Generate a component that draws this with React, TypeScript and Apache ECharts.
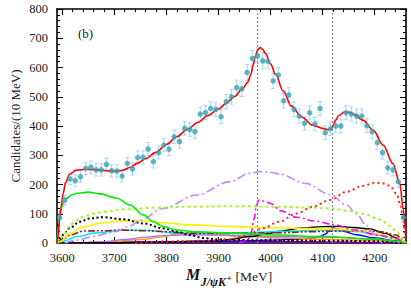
import React, { useEffect, useRef } from "react";
import * as echarts from "echarts";

// ---- data ----
const binCenters = [
  3595, 3605, 3615, 3625, 3635, 3645, 3655, 3665, 3675, 3685, 3695, 3705, 3715, 3725, 3735, 3745, 3755,
  3765, 3775, 3785, 3795, 3805, 3815, 3825, 3835, 3845, 3855, 3865, 3875, 3885, 3895, 3905, 3915, 3925,
  3935, 3945, 3955, 3965, 3975, 3985, 3995, 4005, 4015, 4025, 4035, 4045, 4055, 4065, 4075, 4085, 4095,
  4105, 4115, 4125, 4135, 4145, 4155, 4165, 4175, 4185, 4195, 4205, 4215, 4225, 4235, 4245, 4255,
];
const counts = [
  86, 147, 219, 213, 227, 255, 259, 250, 250, 269, 247, 246, 229, 272, 253, 292, 293,
  321, 278, 309, 335, 321, 363, 347, 392, 388, 381, 441, 446, 460, 457, 432, 483, 500,
  531, 527, 583, 631, 640, 623, 622, 554, 574, 486, 506, 457, 434, 409, 445, 407, 460,
  377, 390, 400, 400, 445, 441, 434, 434, 401, 381, 343, 309, 257, 250, 210, 87,
];
const errors = [
  14, 17, 20, 20, 20, 21, 21, 21, 21, 21, 21, 21, 20, 21, 21, 22, 22,
  22, 21, 22, 22, 22, 23, 23, 23, 23, 23, 24, 24, 24, 24, 24, 25, 25,
  26, 26, 27, 27, 27, 27, 27, 26, 26, 25, 25, 24, 24, 23, 24, 23, 24,
  23, 23, 23, 23, 24, 24, 24, 24, 23, 23, 22, 22, 21, 21, 20, 14,
];

const totalFit = [
  [3590, 0], [3592, 20], [3595, 80], [3598, 125], [3602, 170], [3606, 205], [3614, 235], [3627, 249],
  [3645, 252], [3660, 251], [3680, 248], [3700, 245], [3715, 248], [3730, 258], [3745, 273], [3760, 288],
  [3780, 310], [3800, 337], [3820, 363], [3840, 388], [3860, 412], [3880, 436], [3900, 458], [3915, 478],
  [3930, 500], [3947, 529], [3956, 550], [3962, 575], [3967, 610], [3971, 640], [3975, 660], [3980, 668],
  [3985, 662], [3990, 648], [4000, 612], [4010, 575], [4024, 520], [4040, 468], [4060, 430], [4081, 403],
  [4100, 392], [4110, 388], [4116, 390], [4120, 402], [4125, 420], [4131, 436], [4142, 448], [4152, 447],
  [4160, 440], [4177, 420], [4197, 386], [4216, 335], [4235, 272], [4248, 204], [4255, 113], [4258, 60],
  [4260, 30],
];
const greenComp = [
  [3590, 0], [3593, 60], [3596, 110], [3602, 135], [3609, 153], [3618, 164], [3628, 170], [3650, 174],
  [3673, 168], [3705, 153], [3730, 130], [3756, 96], [3775, 73], [3794, 56], [3820, 44], [3858, 38],
  [3935, 33], [4000, 28], [4100, 22], [4200, 14], [4240, 6], [4260, 0],
];
const limeDotted = [
  [3590, 0], [3602, 22], [3615, 62], [3628, 78], [3641, 90], [3660, 100], [3680, 107], [3717, 115],
  [3780, 121], [3845, 124], [3935, 126], [4017, 124], [4080, 121], [4114, 118], [4150, 110], [4177, 100],
  [4210, 81], [4230, 58], [4242, 39], [4254, 16], [4260, 0],
];
const lavenderDashDot = [
  [3605, 0], [3630, 10], [3660, 22], [3686, 33], [3700, 38], [3730, 58], [3750, 78], [3793, 118],
  [3858, 164], [3922, 210], [3960, 238], [3980, 244], [4000, 242], [4017, 236], [4067, 204], [4114, 166],
  [4146, 130], [4165, 100], [4184, 60], [4197, 33], [4208, 10], [4214, 0],
];
const redDotted = [
  [3740, 0], [3800, 5], [3880, 8], [3922, 12], [3954, 27], [3985, 50], [4017, 73], [4050, 101],
  [4081, 124], [4114, 147], [4146, 175], [4177, 195], [4200, 206], [4215, 204], [4229, 196], [4242, 168],
  [4250, 125], [4254, 85], [4258, 30], [4260, 0],
];
const magentaDashDot = [
  [3940, 0], [3955, 8], [3962, 30], [3968, 80], [3973, 130], [3978, 148], [3990, 142], [4000, 135],
  [4020, 110], [4050, 88], [4085, 75], [4120, 63], [4165, 44], [4203, 27], [4242, 15], [4254, 4], [4260, 0],
];
const blackDotted = [
  [3590, 0], [3596, 15], [3605, 35], [3615, 52], [3634, 73], [3653, 84], [3679, 88], [3717, 81],
  [3756, 67], [3794, 50], [3820, 39], [3845, 27], [3871, 17], [3900, 12], [3935, 10], [4000, 9],
  [4100, 8], [4200, 6], [4260, 0],
];
const yellowComp = [
  [3590, 0], [3596, 5], [3615, 33], [3641, 56], [3679, 69], [3717, 76], [3756, 76], [3794, 69],
  [3845, 62], [3935, 56], [4000, 52], [4126, 48], [4170, 42], [4210, 30], [4240, 14], [4260, 0],
];
const brownDashDot = [
  [3590, 0], [3603, 15], [3615, 27], [3641, 41], [3679, 42], [3717, 44], [3756, 42], [3794, 39],
  [3845, 33], [3935, 33], [4017, 35], [4081, 39], [4146, 41], [4210, 39], [4242, 27], [4254, 8], [4260, 0],
];
const cyanComp = [
  [3590, 0], [3605, 8], [3628, 22], [3666, 35], [3717, 44], [3756, 44], [3781, 41], [3820, 33],
  [3877, 33], [3935, 35], [4017, 39], [4114, 44], [4165, 39], [4210, 27], [4248, 10], [4260, 0],
];
const orangeComp = [
  [3590, 0], [3650, 2], [3700, 5], [3750, 12], [3790, 20], [3820, 30], [3845, 35], [3870, 34],
  [3900, 28], [3950, 22], [4000, 18], [4100, 13], [4200, 8], [4260, 0],
];
const violetComp = [
  [3640, 0], [3680, 4], [3720, 12], [3760, 20], [3800, 26], [3850, 28], [3900, 27], [3950, 24],
  [4000, 22], [4100, 20], [4200, 13], [4250, 3], [4260, 0],
];
const blackSolid = [
  [3590, 0], [3700, 1], [3800, 4], [3900, 8], [3922, 12], [3960, 22], [3998, 33], [4017, 40],
  [4062, 52], [4100, 56], [4126, 57], [4160, 53], [4190, 48], [4222, 32], [4240, 18], [4254, 4], [4260, 0],
];
const blueComp = [
  [3590, 0], [3700, 2], [3800, 4], [3900, 6], [4000, 10], [4050, 13], [4080, 17], [4095, 22],
  [4105, 30], [4112, 40], [4119, 52], [4125, 50], [4140, 40], [4165, 28], [4200, 17], [4240, 8], [4260, 0],
];
const purpleBase = [
  [3590, 0], [3650, 1], [3750, 2], [3850, 3], [3950, 3], [4050, 3], [4150, 2], [4260, 0],
];

const thresholds = [3975, 4119];
const xMajorTicks = [3600, 3700, 3800, 3900, 4000, 4100, 4200];
const xMinorTicks = Array.from({ length: 34 }, (_, i) => 3600 + 20 * i);

const SERIF = "'Liberation Serif', 'DejaVu Serif', serif";

function curve(data: number[][], color: string, type: any, width = 1.5, z = 2) {
  return {
    type: "line",
    data,
    symbol: "none",
    showSymbol: false,
    smooth: 0.35,
    smoothMonotone: "x",
    silent: true,
    z,
    lineStyle: { color, width, type },
  };
}

function measure(text: string, font: string): number {
  const c = document.createElement("canvas").getContext("2d");
  if (!c) return text.length * 6;
  c.font = font;
  return c.measureText(text).width;
}

export default function App() {
  const ref = useRef<HTMLDivElement>(null);
  useEffect(() => {
    if (!ref.current) return;
    const chart = echarts.init(ref.current, null, { renderer: "svg" });
    const xBase = (position: string, major: boolean, showLine: boolean, showLabel: boolean) => ({
      type: "value",
      min: 3590,
      max: 4260,
      position,
      axisLine: { show: showLine, onZero: false, lineStyle: { color: "#000", width: 1.6 } },
      axisTick: {
        show: true,
        inside: true,
        length: major ? 6 : 3,
        customValues: major ? xMajorTicks : xMinorTicks,
        lineStyle: { color: "#000", width: 1.1 },
      },
      axisLabel: showLabel
        ? {
            show: true,
            customValues: xMajorTicks,
            formatter: (v: number) => String(v),
            fontFamily: SERIF,
            fontSize: 12.5,
            color: "#222",
            margin: 8,
          }
        : { show: false },
      splitLine: { show: false },
    });
    const yBase = (position: string, showLabel: boolean) => ({
      type: "value",
      min: 0,
      max: 800,
      interval: 100,
      position,
      axisLine: { show: true, onZero: false, lineStyle: { color: "#000", width: 1.6 } },
      axisTick: { show: true, inside: true, length: 6, lineStyle: { color: "#000", width: 1.1 } },
      minorTick: { show: true, splitNumber: 5, length: 3, lineStyle: { color: "#000", width: 1.1 } },
      axisLabel: showLabel
        ? { show: true, fontFamily: SERIF, fontSize: 12.5, color: "#222", margin: 9 }
        : { show: false },
      splitLine: { show: false },
      minorSplitLine: { show: false },
    });

    // x-axis title layout
    const fM = `italic bold 16px ${SERIF}`;
    const fSub = `italic bold 12px ${SERIF}`;
    const fSup = `bold 9px ${SERIF}`;
    const fUnit = `13.5px ${SERIF}`;
    const x0 = 186;
    const wM = measure("M", fM);
    const xSub = x0 + wM + 0.5;
    const wSub = measure("J/ψK", fSub);
    const xSup = xSub + wSub + 0.3;
    const wSup = measure("+", fSup);
    const xUnit = xSup + wSup + 4;

    chart.setOption({
      animation: false,
      backgroundColor: "#fff",
      grid: { left: 57, right: 5, top: 9, bottom: 45, containLabel: false },
      xAxis: [
        xBase("bottom", true, true, true),
        xBase("bottom", false, false, false),
        xBase("top", true, true, false),
        xBase("top", false, false, false),
      ],
      yAxis: [yBase("left", true), yBase("right", false)],
      graphic: [
        {
          type: "text",
          x: 78,
          y: 33,
          style: { text: "(b)", font: `13px ${SERIF}`, fill: "#222", textAlign: "left", textVerticalAlign: "middle" },
        },
        {
          type: "text",
          x: 15,
          y: 126,
          rotation: Math.PI / 2,
          style: {
            text: "Candidates/(10 MeV)",
            font: `13px ${SERIF}`,
            fill: "#222",
            textAlign: "center",
            textVerticalAlign: "middle",
          },
        },
        {
          type: "text",
          x: x0,
          y: 282,
          style: { text: "M", font: fM, fill: "#111", textAlign: "left", textVerticalAlign: "bottom" },
        },
        {
          type: "text",
          x: xSub,
          y: 287.5,
          style: { text: "J/ψK", font: fSub, fill: "#111", textAlign: "left", textVerticalAlign: "bottom" },
        },
        {
          type: "text",
          x: xSup,
          y: 282,
          style: { text: "+", font: fSup, fill: "#111", textAlign: "left", textVerticalAlign: "bottom" },
        },
        {
          type: "text",
          x: xUnit,
          y: 283,
          style: { text: "[MeV]", font: fUnit, fill: "#222", textAlign: "left", textVerticalAlign: "bottom" },
        },
      ],
      series: [
        {
          type: "line",
          data: [],
          silent: true,
          markLine: {
            symbol: "none",
            silent: true,
            label: { show: false },
            lineStyle: { color: "#8a8a8a", width: 1.2, type: [2, 2] },
            data: thresholds.map((t) => ({ xAxis: t })),
          },
        },
        curve(purpleBase, "#8000a0", "solid", 2),
        curve(blueComp, "#0000ff", "solid", 1.4),
        curve(orangeComp, "#ffa000", "solid", 1.4),
        curve(violetComp, "#b070ff", "solid", 1.4),
        curve(blackSolid, "#000000", "solid", 1.4),
        curve(cyanComp, "#00e8f0", "solid", 1.5),
        curve(brownDashDot, "#8b2323", [7, 2, 2, 2, 2, 2], 1.6),
        curve(yellowComp, "#ffee00", "solid", 1.6),
        curve(blackDotted, "#000000", [2, 2.5], 2),
        curve(magentaDashDot, "#ff00ff", [7, 3, 2, 3], 1.6),
        curve(redDotted, "#ff2020", [2, 3.2], 2),
        curve(lavenderDashDot, "#bf8cff", [9, 3, 2, 3], 1.6),
        curve(limeDotted, "#a8f03a", [3, 3], 2),
        curve(greenComp, "#00ee00", "solid", 1.6),
        {
          type: "custom",
          silent: true,
          z: 4,
          renderItem: (_params: any, api: any) => {
            const x = api.value(0);
            const y = api.value(1);
            const e = api.value(2);
            const top = api.coord([x, y + e]);
            const bot = api.coord([x, y - e]);
            const cap = 2;
            const st = { stroke: "#a6d6f0", lineWidth: 1 };
            return {
              type: "group",
              children: [
                { type: "line", shape: { x1: top[0], y1: top[1], x2: bot[0], y2: bot[1] }, style: st },
                { type: "line", shape: { x1: top[0] - cap, y1: top[1], x2: top[0] + cap, y2: top[1] }, style: st },
                { type: "line", shape: { x1: bot[0] - cap, y1: bot[1], x2: bot[0] + cap, y2: bot[1] }, style: st },
              ],
            };
          },
          data: binCenters.map((m, i) => [m, counts[i], errors[i]]),
          encode: { x: 0, y: 1 },
        },
        curve(totalFit, "#ff0000", "solid", 1.6, 5),
        {
          type: "scatter",
          data: binCenters.map((m, i) => [m, counts[i]]),
          symbol: "circle",
          symbolSize: 5.5,
          silent: true,
          z: 6,
          itemStyle: { color: "#37a2b6" },
        },
      ],
    });
    return () => chart.dispose();
  }, []);
  return (
    <div
      ref={ref}
      style={{ position: "fixed", left: 0, top: 0, width: 411, height: 288, background: "#fff" }}
    />
  );
}
